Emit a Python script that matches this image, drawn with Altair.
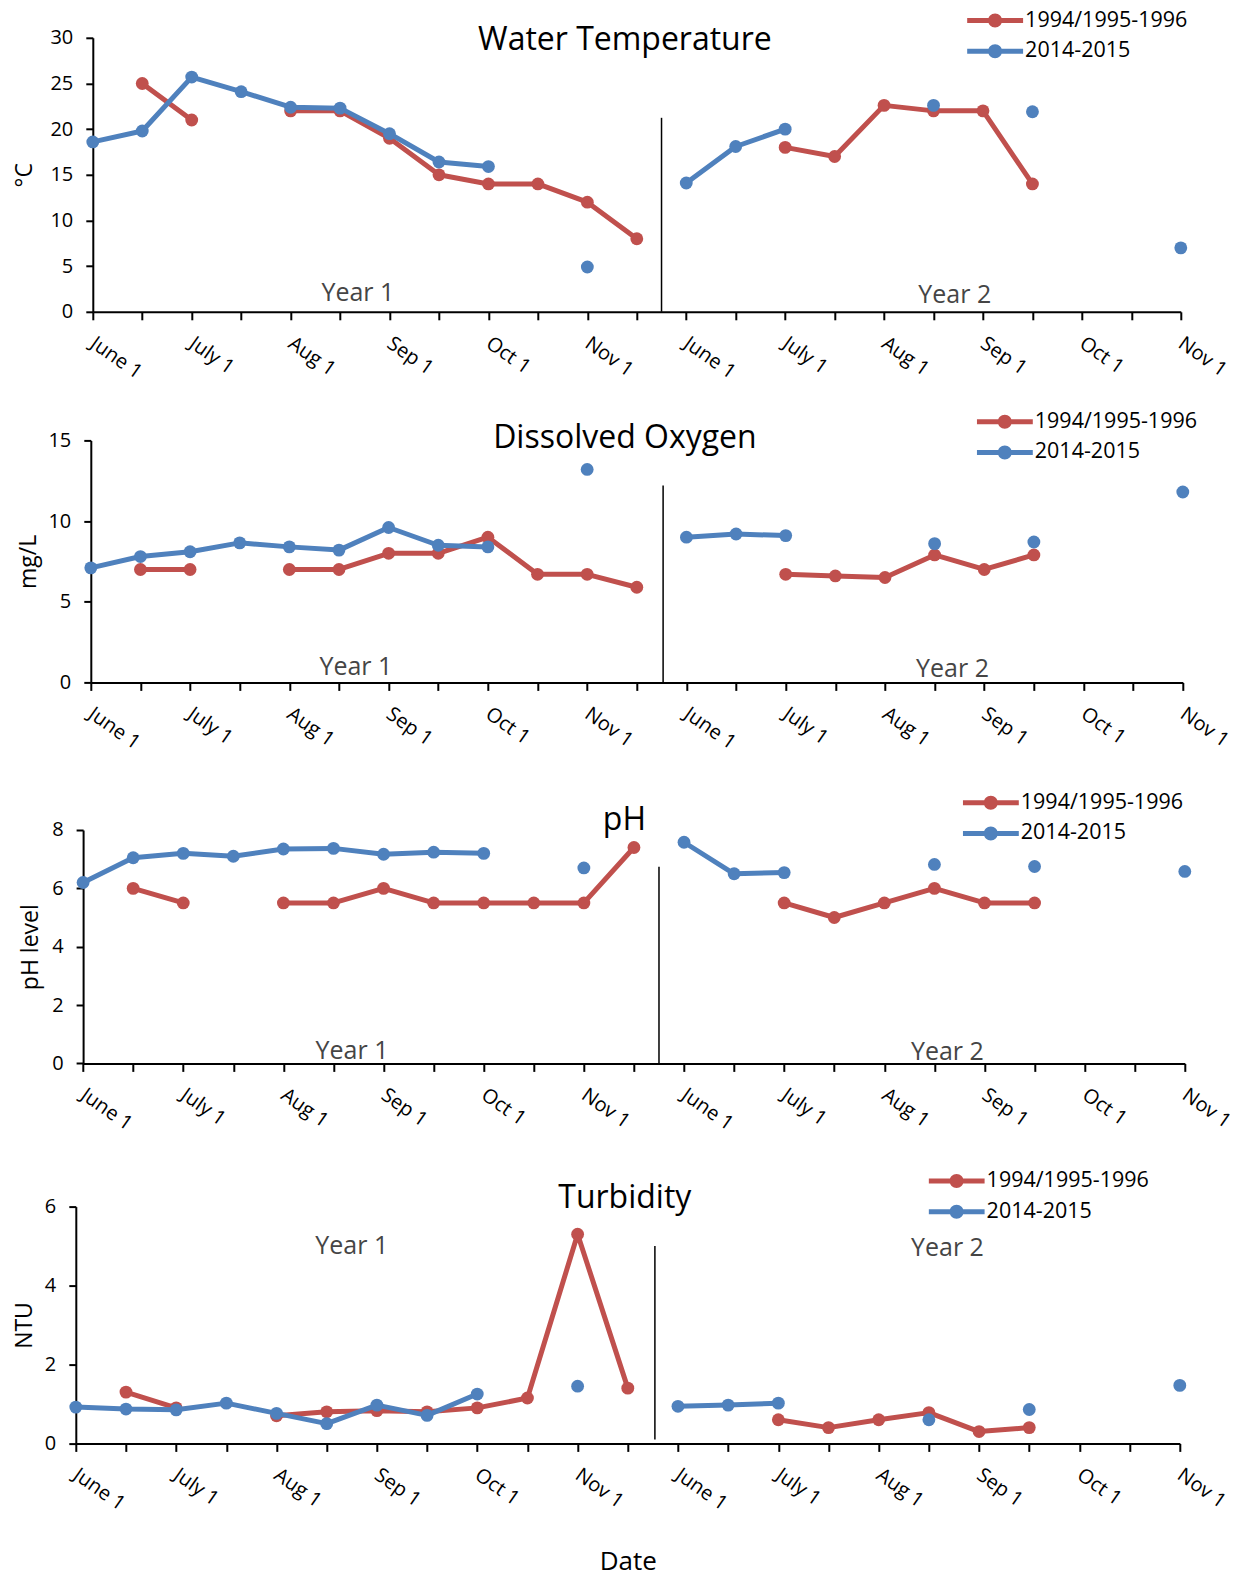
import json
import altair as alt
import pandas as pd

FONT = "Open Sans"
RED = "#C0504D"
BLUE = "#4F81BD"
SERIES = ["1994/1995-1996", "2014-2015"]

TICK_LABELS = ["June 1", "July 1", "Aug 1", "Sep 1", "Oct 1", "Nov 1",
               "June 1", "July 1", "Aug 1", "Sep 1", "Oct 1", "Nov 1"]
N_CAT = 23  # category slots (half-month steps), two seasons

temp_old = [None, 25, 21, None, 22, 22, 19, 15, 14, 14, 12, 8,
            None, None, 18, 17, 22.6, 22, 22, 14, None, None, None]
temp_new = [18.6, 19.8, 25.7, 24.1, 22.4, 22.3, 19.5, 16.4, 15.9, None, 4.9, None,
            14.1, 18.1, 20.0, None, None, 22.6, None, 21.9, None, None, 7.0]
do_old = [None, 7.0, 7.0, None, 7.0, 7.0, 8.0, 8.0, 9.0, 6.7, 6.7, 5.9,
          None, None, 6.7, 6.6, 6.5, 7.9, 7.0, 7.9, None, None, None]
do_new = [7.1, 7.8, 8.1, 8.65, 8.4, 8.2, 9.6, 8.5, 8.4, None, 13.2, None,
          9.0, 9.2, 9.1, None, None, 8.6, None, 8.7, None, None, 11.8]
ph_old = [None, 6.0, 5.5, None, 5.5, 5.5, 6.0, 5.5, 5.5, 5.5, 5.5, 7.4,
          None, None, 5.5, 5.0, 5.5, 6.0, 5.5, 5.5, None, None, None]
ph_new = [6.2, 7.05, 7.2, 7.1, 7.35, 7.37, 7.17, 7.24, 7.2, None, 6.7, None,
          7.58, 6.5, 6.54, None, None, 6.82, None, 6.75, None, None, 6.58]
turb_old = [None, 1.3, 0.9, None, 0.7, 0.8, 0.83, 0.8, 0.9, 1.15, 5.3, 1.4,
            None, None, 0.6, 0.4, 0.6, 0.78, 0.3, 0.4, None, None, None]
turb_new = [0.92, 0.87, 0.85, 1.02, 0.76, 0.5, 0.97, 0.71, 1.25, None, 1.45, None,
            0.94, 0.97, 1.02, None, None, 0.6, None, 0.86, None, None, 1.47]

LABEL_EXPR = ("datum.value % 2 == 0 ? " + json.dumps(TICK_LABELS)
              + "[datum.value / 2] : ''")

# legend symbol: a short thick line with a dot in the middle (unit box -1..1)
LEG_PATH = ("M-1,-0.09L1,-0.09L1,0.09L-1,0.09Z "
            "M0.25,0A0.25,0.25,0,1,1,-0.25,0A0.25,0.25,0,1,1,0.25,0Z")


def rows(vals, series):
    out, seg, prev = [], 0, False
    for i, v in enumerate(vals):
        if v is None:
            prev = False
            continue
        if not prev:
            seg += 1
        out.append({"idx": i, "value": v, "series": series, "seg": f"{series}-{seg}"})
        prev = True
    return out


def panel(old, new, ymax, ystep, ytitle, title, title_xy, year1_xy, year2_xy,
          sep_y, r0, width, height, lx, ly, lpad, yext, xtitle=None):
    df = pd.DataFrame(rows(old, SERIES[0]) + rows(new, SERIES[1]))

    xaxis_kw = dict(values=list(range(N_CAT)), labelExpr=LABEL_EXPR, labelAngle=35,
                    labelAlign="left", labelBaseline="top", labelPadding=13,
                    labelOffset=5, labelFlush=False, labelOverlap=False,
                    labelBound=False, labelFontSize=20, tickSize=8, tickWidth=2,
                    domainWidth=2, grid=False)
    if xtitle:
        xaxis_kw.update(title=xtitle, titleFontSize=26, titlePadding=35)
    else:
        xaxis_kw.update(title=None)
    x = alt.X("idx:Q",
              scale=alt.Scale(domain=[0, N_CAT - 1], range=[r0, r0 + width],
                              nice=False, zero=False, padding=0),
              axis=alt.Axis(**xaxis_kw))
    yvals = list(range(0, ymax + 1, ystep))
    y = alt.Y("value:Q", scale=alt.Scale(domain=[0, ymax], nice=False, zero=True),
              axis=alt.Axis(values=yvals, title=ytitle, titleFontSize=23,
                            titlePadding=4, labelFontSize=20, labelPadding=13,
                            tickSize=7, tickWidth=2, domainWidth=2, grid=False,
                            minExtent=yext, maxExtent=yext, offset=-r0))
    legend = alt.Legend(orient="none", legendX=lx - lpad, legendY=ly - lpad,
                        padding=lpad, title=None, labelFont=FONT, labelFontSize=21.5,
                        labelColor="black", labelLimit=400, symbolType=LEG_PATH,
                        symbolSize=3136, symbolStrokeWidth=0, symbolOpacity=1,
                        clipHeight=22, rowPadding=8.7, labelOffset=2,
                        direction="vertical")
    color = alt.Color("series:N", scale=alt.Scale(domain=SERIES, range=[RED, BLUE]),
                      legend=legend)

    layers = []
    for s, c in zip(SERIES, [RED, BLUE]):
        base = alt.Chart(df).transform_filter(alt.datum.series == s)
        layers.append(base.mark_line(color=c, strokeWidth=5, strokeJoin="round",
                                     strokeCap="round")
                      .encode(x=x, y=y, detail="seg:N"))
        layers.append(base.mark_point(filled=True, size=165, opacity=1, shape="circle")
                      .encode(x=x, y=y, color=color))

    one = pd.DataFrame({"a": [0]})
    layers.append(alt.Chart(one).mark_rule(color="black", strokeWidth=1.5)
                  .encode(x=alt.datum(sep_y[0]), y=alt.datum(sep_y[1]),
                          y2=alt.datum(sep_y[2])))
    layers.append(alt.Chart(one).mark_text(font=FONT, fontSize=32, color="black",
                                           align="center", baseline="middle", text=title)
                  .encode(x=alt.datum(title_xy[0]), y=alt.datum(title_xy[1])))
    for txt, (tx, ty) in (("Year 1", year1_xy), ("Year 2", year2_xy)):
        layers.append(alt.Chart(one).mark_text(font=FONT, fontSize=25, color="#454545",
                                               align="center", baseline="middle", text=txt)
                      .encode(x=alt.datum(tx), y=alt.datum(ty)))
    return alt.layer(*layers).properties(width=r0 + width, height=height)


# common plot origin is at page x = 76; r0 shifts each panel's own axis to the right
p1 = panel(temp_old, temp_new, 30, 5, "°C", "Water Temperature", (10.76, 29.8),
           (5.36, 2.05), (17.43, 1.86), (11.5, 21.24, 0), 17, 1088, 274,
           891.3, -28.2, 0, 52)
p2 = panel(do_old, do_new, 15, 5, "mg/L", "Dissolved Oxygen", (10.76, 15.16),
           (5.34, 0.95), (17.36, 0.82), (11.53, 12.2, 0), 15, 1092, 242,
           901, -29.7, 0.2, 46.5)
p3 = panel(ph_old, ph_new, 8, 2, "pH level", "pH", (10.81, 8.34),
           (5.37, 0.44), (17.26, 0.38), (11.5, 6.74, 0), 7.3, 1101.7, 233.4,
           887, -38.3, 10.1, 36.3)
p4 = panel(turb_old, turb_new, 6, 1, "NTU", "Turbidity", (10.94, 6.21),
           (5.5, 4.99), (17.37, 4.96), (11.54, 5.0, 0.1), 0, 1104, 236.8,
           852.8, -36.5, 7.6, 35, xtitle="Date")

chart = (alt.vconcat(p1, p2, p3, p4, spacing=27.6)
         .resolve_scale(color="independent", x="independent", y="independent")
         .resolve_legend(color="independent")
         .properties(padding={"left": 5.8, "top": 0.8, "right": -4, "bottom": 0},
                     background="white")
         .configure_view(stroke=None)
         .configure_axis(labelFont=FONT, titleFont=FONT, labelColor="black",
                         titleColor="black", domainColor="black", tickColor="black",
                         titleFontWeight="normal"))

chart.save("out.html", embed_options={"renderer": "svg", "actions": False})
